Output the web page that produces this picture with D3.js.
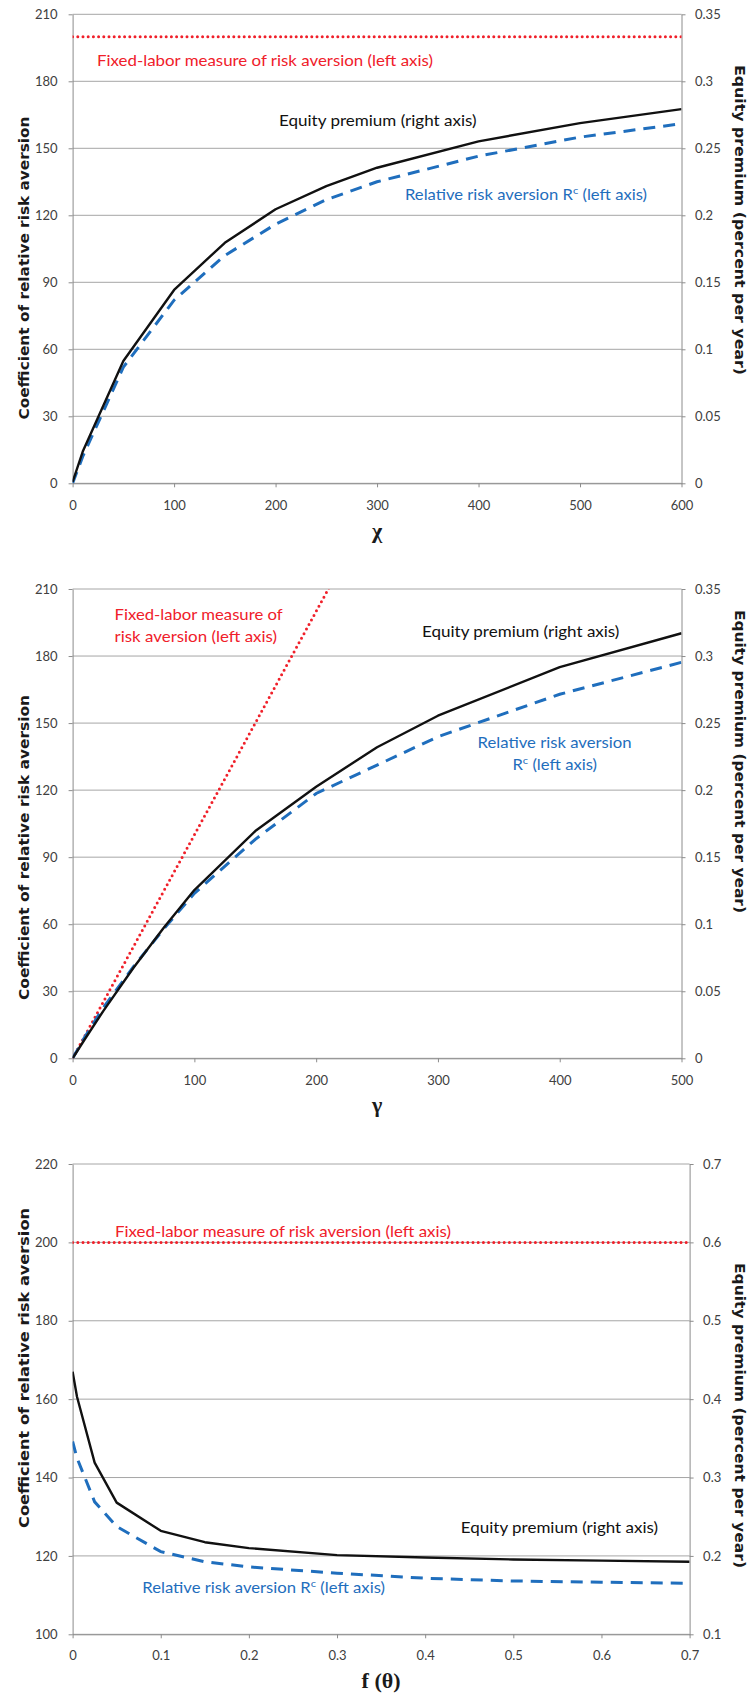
<!DOCTYPE html>
<html>
<head>
<meta charset="utf-8">
<script src="https://cdn.jsdelivr.net/npm/d3@7"></script>
<style>
  body { margin: 0; background: #fff; }
  .tick text { font-family: Lato, "Open Sans", sans-serif; font-size: 13px; fill: #404040; }
  .axis path, .axis line { stroke: #8c8c8c; }
  .grid { stroke: #a6a6a6; stroke-width: 1; }
  .note { font-family: Lato, "Open Sans", sans-serif; font-size: 15px; }
  .ytitle { font-family: "DejaVu Sans", Verdana, sans-serif; font-weight: bold; font-size: 13.5px; fill: #1a1a1a; }
  .xtitle { font-family: "Liberation Serif", "DejaVu Serif", serif; font-size: 22px; font-weight: bold; fill: #1a1a1a; }
</style>
</head>
<body>
<div id="chart"></div>
<script>
// panel 1: chi
let chiX = [0, 10, 50, 100, 150, 200, 250, 300, 400, 500, 600];
let chiRRA = [0, 12, 52, 82, 102, 116, 127, 135, 146.5, 155, 161];
let chiEP = [0.001, 0.0237, 0.0913, 0.1443, 0.1795, 0.2045, 0.2218, 0.2355, 0.2552, 0.2688, 0.2792];
let chiFixed = [200, 200, 200, 200, 200, 200, 200, 200, 200, 200, 200];

// panel 2: gamma
let gammaX = [0, 10, 25, 50, 75, 100, 150, 200, 250, 300, 400, 500];
let gammaRRA = [0, 9.5, 22.5, 41, 58, 73.8, 98, 118.5, 131.2, 143.9, 162.9, 177.2];
let gammaEP = [0, 0.0142, 0.035, 0.0675, 0.0975, 0.1255, 0.1695, 0.2025, 0.232, 0.2555, 0.2917, 0.317];
let gammaFixed = [0, 10, 25, 50, 75, 100, 150, 200, 250, 300, 400, 500];

// panel 3: f(theta)
let fX = [0, 0.005, 0.025, 0.05, 0.1, 0.15, 0.2, 0.3, 0.4, 0.5, 0.6, 0.7];
let fRRA = [149.2, 145, 133.8, 127.5, 121.1, 118.5, 117.2, 115.6, 114.3, 113.6, 113.3, 113.0];
let fEP = [0.435, 0.403, 0.319, 0.268, 0.232, 0.2175, 0.21, 0.201, 0.198, 0.1955, 0.194, 0.1925];
let fFixed = [200, 200, 200, 200, 200, 200, 200, 200, 200, 200, 200, 200];

// tick labels
let leftTicks1 = [0, 30, 60, 90, 120, 150, 180, 210];
let rightTicks1 = [0, 0.05, 0.1, 0.15, 0.2, 0.25, 0.3, 0.35];
let bottomTicks1 = [0, 100, 200, 300, 400, 500, 600];
let leftTicks2 = [0, 30, 60, 90, 120, 150, 180, 210];
let rightTicks2 = [0, 0.05, 0.1, 0.15, 0.2, 0.25, 0.3, 0.35];
let bottomTicks2 = [0, 100, 200, 300, 400, 500];
let leftTicks3 = [100, 120, 140, 160, 180, 200, 220];
let rightTicks3 = [0.1, 0.2, 0.3, 0.4, 0.5, 0.6, 0.7];
let bottomTicks3 = [0, 0.1, 0.2, 0.3, 0.4, 0.5, 0.6, 0.7];

let RED = "#f0202a", BLUE = "#1f6ebd", BLACK = "#111";
let leftTitle = "Coefficient of relative risk aversion";
let rightTitle = "Equity premium (percent per year)";

let svg = d3.select("#chart").append("svg")
    .attr("width", 749)
    .attr("height", 1697);

let fmt = (d) => String(+d.toFixed(2));

let panels = [
  {id: 1, left: 72.6, right: 681.5, top: 14.3, bottom: 483.3,
   x: chiX, rra: chiRRA, ep: chiEP, fixed: chiFixed,
   lt: leftTicks1, rt: rightTicks1, bt: bottomTicks1,
   xlab: "χ", xlabY: 538,
   ltitle: {cy: 268, len: 303}, rtitle: {cy: 220, len: 310},
   notes: [
     {color: RED, x: 97, y: 66, len: 336, text: "Fixed-labor measure of risk aversion (left axis)"},
     {color: BLACK, x: 279, y: 126, len: 197.6, text: "Equity premium (right axis)"},
     {color: BLUE, x: 405, y: 199.5, len: 242, sup: true}
   ]},
  {id: 2, left: 72.6, right: 681.5, top: 589, bottom: 1058.3,
   x: gammaX, rra: gammaRRA, ep: gammaEP, fixed: gammaFixed,
   lt: leftTicks2, rt: rightTicks2, bt: bottomTicks2,
   xlab: "γ", xlabY: 1112,
   ltitle: {cy: 847.5, len: 305}, rtitle: {cy: 761.5, len: 303},
   notes: [
     {color: RED, x: 114.6, y: 620, len: 168, text: "Fixed-labor measure of"},
     {color: RED, x: 114.6, y: 642, len: 162.4, text: "risk aversion (left axis)"},
     {color: BLACK, x: 422, y: 637, len: 197.4, text: "Equity premium (right axis)"},
     {color: BLUE, x: 477.6, y: 748, len: 154, text: "Relative risk aversion"},
     {color: BLUE, x: 512.4, y: 769.5, len: 84.6, sup: true, short: true}
   ]},
  {id: 3, left: 72.6, right: 689.6, top: 1164, bottom: 1634.3,
   x: fX, rra: fRRA, ep: fEP, fixed: fFixed,
   lt: leftTicks3, rt: rightTicks3, bt: bottomTicks3,
   xlab: "f (θ)", xlabY: 1688,
   ltitle: {cy: 1368, len: 320}, rtitle: {cy: 1415.5, len: 305},
   notes: [
     {color: RED, x: 115, y: 1237, len: 336, text: "Fixed-labor measure of risk aversion (left axis)"},
     {color: BLACK, x: 460.8, y: 1533, len: 197.2, text: "Equity premium (right axis)"},
     {color: BLUE, x: 142.3, y: 1593, len: 242.7, sup: true}
   ]}
];

function drawPanel(p) {
  let lt = p.lt, rt = p.rt, bt = p.bt;
  let x = d3.scaleLinear().domain([bt[0], bt[bt.length - 1]]).range([p.left, p.right]);
  let yL = d3.scaleLinear().domain([lt[0], lt[lt.length - 1]]).range([p.bottom, p.top]);
  let yR = d3.scaleLinear().domain([rt[0], rt[rt.length - 1]]).range([p.bottom, p.top]);

  let g = svg.append("g");

  // horizontal gridlines
  g.append("g").selectAll("line")
      .data(lt)
      .join("line")
      .attr("class", "grid")
      .attr("x1", p.left).attr("x2", p.right)
      .attr("y1", (d) => yL(d)).attr("y2", (d) => yL(d));

  // axes
  g.append("g").attr("class", "axis")
      .attr("transform", "translate(" + p.left + ",0)")
      .call(d3.axisLeft(yL).tickValues(lt).tickSize(4).tickSizeOuter(0).tickPadding(11).tickFormat(fmt));
  g.append("g").attr("class", "axis")
      .attr("transform", "translate(" + p.right + ",0)")
      .call(d3.axisRight(yR).tickValues(rt).tickSize(4).tickSizeOuter(0).tickPadding(9.5).tickFormat(fmt));
  g.append("g").attr("class", "axis")
      .attr("transform", "translate(0," + p.bottom + ")")
      .call(d3.axisBottom(x).tickValues(bt).tickSize(4).tickSizeOuter(0).tickPadding(p.id === 3 ? 12 : 13).tickFormat(fmt));
  g.selectAll(".axis .domain").attr("stroke", "#8c8c8c");

  // clip to plot area
  svg.append("clipPath").attr("id", "clip" + p.id)
      .append("rect")
      .attr("x", p.left).attr("y", p.top)
      .attr("width", p.right - p.left).attr("height", p.bottom - p.top);

  let idx = d3.range(p.x.length);
  let lines = g.append("g").attr("clip-path", "url(#clip" + p.id + ")");

  lines.append("path")
      .datum(idx)
      .attr("fill", "none")
      .attr("stroke", RED)
      .attr("stroke-width", 3)
      .attr("stroke-linecap", "round")
      .attr("stroke-dasharray", "0,5.2")
      .attr("d", d3.line().x((i) => x(p.x[i])).y((i) => yL(p.fixed[i])));

  lines.append("path")
      .datum(idx)
      .attr("fill", "none")
      .attr("stroke", BLUE)
      .attr("stroke-width", 3)
      .attr("stroke-dasharray", "12,8")
      .attr("d", d3.line().x((i) => x(p.x[i])).y((i) => yL(p.rra[i])));

  lines.append("path")
      .datum(idx)
      .attr("fill", "none")
      .attr("stroke", BLACK)
      .attr("stroke-width", 2.4)
      .attr("stroke-linejoin", "round")
      .attr("d", d3.line().x((i) => x(p.x[i])).y((i) => yR(p.ep[i])));

  // notes
  p.notes.forEach(function (n) {
    let t = g.append("text")
        .attr("class", "note")
        .attr("x", n.x).attr("y", n.y)
        .attr("fill", n.color)
        .attr("textLength", n.len)
        .attr("lengthAdjust", "spacingAndGlyphs");
    if (n.sup) {
      t.append("tspan").text(n.short ? "R" : "Relative risk aversion R");
      t.append("tspan").attr("dy", -6).attr("font-size", 10).text("c");
      t.append("tspan").attr("dy", 6).text(" (left axis)");
    } else {
      t.text(n.text);
    }
  });

  // axis titles
  g.append("text")
      .attr("class", "ytitle")
      .attr("text-anchor", "middle")
      .attr("transform", "translate(29," + p.ltitle.cy + ") rotate(-90)")
      .attr("textLength", p.ltitle.len)
      .attr("lengthAdjust", "spacingAndGlyphs")
      .text(leftTitle);
  g.append("text")
      .attr("class", "ytitle")
      .attr("text-anchor", "middle")
      .attr("transform", "translate(735," + p.rtitle.cy + ") rotate(90)")
      .attr("textLength", p.rtitle.len)
      .attr("lengthAdjust", "spacingAndGlyphs")
      .text(rightTitle);
  g.append("text")
      .attr("class", "xtitle")
      .attr("text-anchor", "middle")
      .attr("x", (p.left + p.right) / 2)
      .attr("y", p.xlabY)
      .text(p.xlab);
}

panels.forEach(drawPanel);
</script>
</body>
</html>
